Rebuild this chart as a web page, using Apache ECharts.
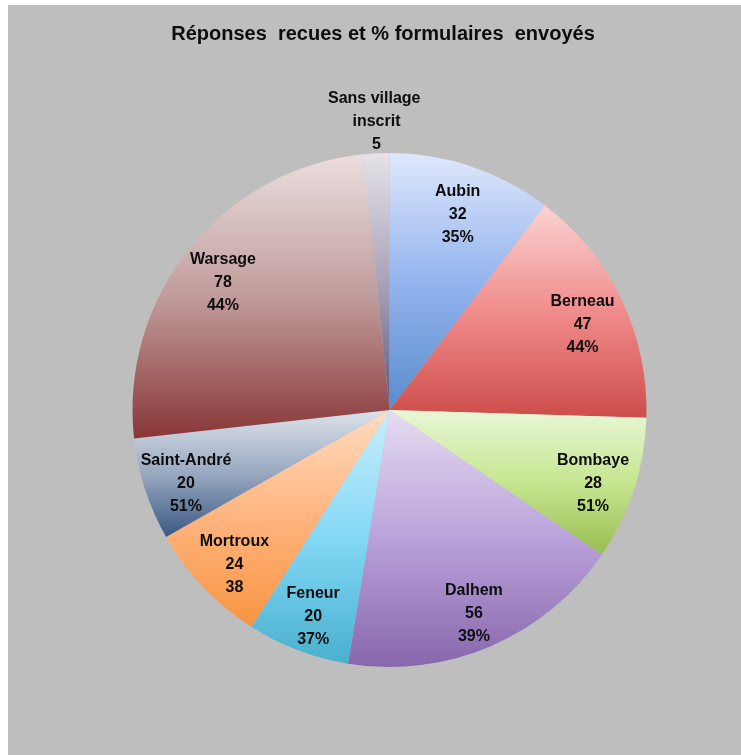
<!DOCTYPE html>
<html>
<head>
<meta charset="utf-8">
<script src="https://cdn.jsdelivr.net/npm/echarts@6/dist/echarts.min.js"></script>
<style>
  html, body { margin: 0; padding: 0; background: #ffffff; }
  #chart { position: absolute; left: 8px; top: 5px; width: 733px; height: 750px; }
</style>
</head>
<body>
<div id="chart"></div>
<script>
// ---- data ----
const categories = ['Aubin', 'Berneau', 'Bombaye', 'Dalhem', 'Feneur', 'Mortroux', 'Saint-André', 'Warsage', 'Sans village inscrit'];
const responses = [32, 47, 28, 56, 20, 24, 20, 78, 5];
const percentSent = ['35%', '44%', '51%', '39%', '37%', '38', '51%', '44%', ''];
const topColors = ['#dfe8fb', '#fbd3d3', '#e9f6d6', '#e6dcf1', '#cbeefc', '#ffdcc0', '#dde2ea', '#ebdede', '#e6e2e8'];
const midColors = ['#93b4ee', '#f08c8c', '#c6e690', '#b9a2da', '#84d8f6', '#ffb47e', '#98a8c0', '#c19c9c', '#a9a3b8'];
const bottomColors = ['#5a8ccd', '#cd4d4a', '#98bd50', '#8866ac', '#48b0cd', '#f79440', '#3a5883', '#893636', '#5d5880'];

const chart = echarts.init(document.getElementById('chart'));

const grad = (i) => ({
  type: 'linear', x: 0, y: 0, x2: 0, y2: 1,
  colorStops: [
    { offset: 0, color: topColors[i] },
    { offset: 0.5, color: midColors[i] },
    { offset: 1, color: bottomColors[i] }
  ]
});

const baseData = categories.map((c, i) => ({ name: c, value: responses[i], itemStyle: { color: grad(i) } }));
const labelData = categories.map((c, i) => {
  const d = { name: c, value: responses[i] };
  if (i === categories.length - 1) {
    d.label = { position: 'outside', width: 100, overflow: 'break' };
  }
  return d;
});

const labelFont = {
  fontFamily: 'Liberation Sans, Arial, sans-serif',
  fontWeight: 'bold',
  fontSize: 16,
  lineHeight: 23,
  color: '#0d0d0d'
};

chart.setOption({
  backgroundColor: '#bebebe',
  animation: false,
  title: {
    text: 'Réponses  recues et % formulaires  envoyés',
    left: 370,
    top: 14,
    textAlign: 'center',
    textStyle: {
      fontFamily: 'Liberation Sans, Arial, sans-serif',
      fontWeight: 'bold',
      fontSize: 20,
      color: '#0d0d0d'
    }
  },
  series: [
    {
      type: 'pie',
      center: [381.5, 405],
      radius: [0, 257],
      startAngle: 90,
      clockwise: true,
      silent: true,
      label: { show: false },
      labelLine: { show: false },
      itemStyle: { borderWidth: 0 },
      emphasis: { disabled: true },
      data: baseData
    },
    {
      type: 'pie',
      center: [381.5, 405],
      radius: [165, 257],
      startAngle: 90,
      clockwise: true,
      silent: true,
      itemStyle: { color: 'rgba(0,0,0,0)', borderWidth: 0 },
      emphasis: { disabled: true },
      labelLine: { show: false, length: 0, length2: 0 },
      label: Object.assign({
        show: true,
        position: 'inside',
        align: 'center',
        formatter: (p) => {
          const pct = percentSent[p.dataIndex];
          return p.name + '\n' + p.value + (pct ? '\n' + pct : '');
        }
      }, labelFont),
      labelLayout: (p) => {
        if (p.dataIndex === categories.length - 1) {
          return {
            x: p.rect.x + p.rect.width / 2,
            y: p.rect.y + 3,
            align: 'center',
            verticalAlign: 'bottom'
          };
        }
        return { dy: 7 };
      },
      data: labelData
    }
  ]
});
</script>
</body>
</html>
